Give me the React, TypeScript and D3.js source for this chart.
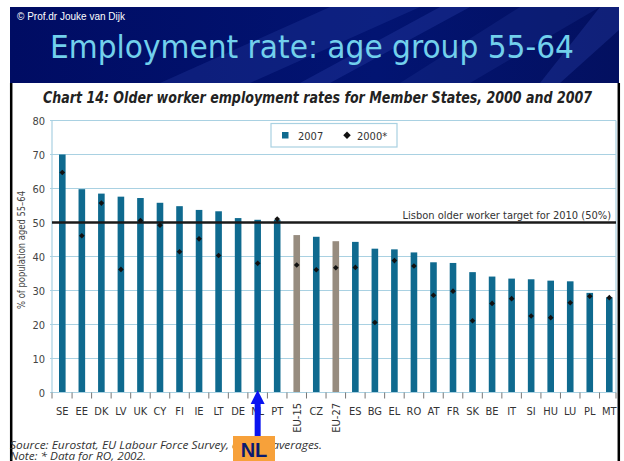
import React from "react";
import * as d3 from "d3";

const categories = ["SE","EE","DK","LV","UK","CY","FI","IE","LT","DE","NL","PT","EU-15","CZ","EU-27","ES","BG","EL","RO","AT","FR","SK","BE","IT","SI","HU","LU","PL","MT"];
const values2007 = [70.0, 59.8, 58.5, 57.6, 57.2, 55.8, 54.8, 53.7, 53.3, 51.3, 50.8, 50.8, 46.3, 45.8, 44.5, 44.3, 42.3, 42.1, 41.2, 38.3, 38.1, 35.4, 34.1, 33.5, 33.3, 32.9, 32.7, 29.3, 28.0];
const values2000: (number | null)[] = [64.7, 46.1, 55.7, 36.2, 50.6, 49.2, 41.4, 45.2, 40.3, null, 38.0, 51.0, 37.5, 36.1, 36.7, 36.8, 20.6, 38.8, 37.2, 28.6, 29.8, 21.1, 26.2, 27.6, 22.5, 22.0, 26.4, 28.3, 27.9];
const aggregates = ["EU-15", "EU-27"];
const yTicks = [0, 10, 20, 30, 40, 50, 60, 70, 80];
const lisbonTarget = 50;

const W = 624, H = 461;
const COND = "'Liberation Sans Narrow', 'DejaVu Sans Condensed', 'Roboto Condensed', 'Liberation Sans', sans-serif";
const BAR = "#0f6a8f";
const GREY = "#978c7f";
const GRID = "#a9d1e2";

export default function App() {
  const plotL = 52, plotR = 616;
  const y = d3.scaleLinear().domain([0, 80]).range([392.5, 120.5]);
  const x = d3.scalePoint<string>().domain(categories).range([62.3, 609.3]);
  const step = x.step();
  const bw = 6.6;
  const marker = d3.symbol().type(d3.symbolSquare).size(16)()!;
  const legendMarker = d3.symbol().type(d3.symbolSquare).size(28)()!;

  const tickXs: number[] = [plotL];
  categories.forEach((c, i) => { if (i < categories.length - 1) tickXs.push((x(c) as number) + step / 2); });
  tickXs.push(plotR);

  const nlX = x("NL") as number;

  return (
    <svg width={W} height={H} style={{ position: "absolute", left: 0, top: 0, display: "block" }}>
      <defs>
        <linearGradient id="hdr" x1="0" y1="0" x2="1" y2="0">
          <stop offset="0" stopColor="#000c63" />
          <stop offset="0.6" stopColor="#021472" />
          <stop offset="1" stopColor="#031060" />
        </linearGradient>
        <clipPath id="hclip"><rect x={10} y={7} width={609} height={76} /></clipPath>
      </defs>
      <rect x={0} y={0} width={W} height={H} fill="#ffffff" />
      {/* header */}
      <rect x={10} y={7} width={609} height={76} fill="url(#hdr)" />
      <g clipPath="url(#hclip)" opacity={0.35}>
        <polygon points="330,7 420,7 250,83 160,83" fill="#243a9e" />
        <polygon points="440,7 470,7 330,83 300,83" fill="#2a40a8" />
        <polygon points="520,7 600,7 470,83 400,83" fill="#1c318f" />
        <polygon points="600,7 619,7 619,30 560,83 540,83" fill="#2a40a8" />
      </g>
      <text x={17} y={20} fill="#ffffff" fontSize={10} fontFamily="'Liberation Sans', Arial, sans-serif">© Prof.dr Jouke van Dijk</text>
      <text x={50} y={58} fill="#72d0ec" fontSize={32} fontFamily={COND} textLength={524} lengthAdjust="spacingAndGlyphs">Employment rate: age group 55-64</text>

      {/* frame lines */}
      <line x1={11.2} x2={11.2} y1={83} y2={H} stroke="#000" strokeWidth={2.5} />
      <line x1={618.8} x2={618.8} y1={83} y2={H} stroke="#000" strokeWidth={2.5} />

      {/* chart title */}
      <text x={43} y={103} fill="#222" fontSize={16} fontWeight="bold" fontStyle="italic" fontFamily={COND} textLength={549} lengthAdjust="spacingAndGlyphs">Chart 14: Older worker employment rates for Member States, 2000 and 2007</text>

      {/* gridlines */}
      {yTicks.map(t => (
        <g key={t}>
          {t !== lisbonTarget && (
            <line x1={plotL - 2} x2={plotR} y1={y(t)} y2={y(t)} stroke={GRID} strokeWidth={1.2} />
          )}
          <text x={45} y={y(t) + 4} textAnchor="end" fill="#444" fontSize={11} fontFamily={COND}>{t}</text>
        </g>
      ))}
      <line x1={plotL} x2={plotL} y1={y(80)} y2={y(0)} stroke={GRID} strokeWidth={1.2} />
      <line x1={plotR} x2={plotR} y1={y(80)} y2={y(0)} stroke={GRID} strokeWidth={1.2} />

      {/* y label */}
      <text transform={`translate(25,${250}) rotate(-90)`} textAnchor="middle" fill="#444" fontSize={10.5} fontFamily={COND} textLength={118} lengthAdjust="spacingAndGlyphs">% of population aged 55–64</text>

      {/* legend */}
      <rect x={271} y={123.5} width={126} height={23.5} fill="#fff" stroke={GRID} strokeWidth={1.2} />
      <rect x={282} y={132} width={6.5} height={6.5} fill={BAR} />
      <text x={298} y={139.5} fill="#333" fontSize={11} fontFamily={COND}>2007</text>
      <path d={legendMarker} transform="translate(347,135.3) rotate(45)" fill="#111" />
      <text x={357} y={139.5} fill="#333" fontSize={11} fontFamily={COND}>2000*</text>

      {/* bars */}
      {categories.map((c, i) => (
        <rect key={c} x={(x(c) as number) - bw / 2} y={y(values2007[i])} width={bw}
          height={y(0) - y(values2007[i])} fill={aggregates.includes(c) ? GREY : BAR} />
      ))}

      {/* Lisbon line */}
      <line x1={plotL} x2={plotR} y1={y(lisbonTarget)} y2={y(lisbonTarget)} stroke="#1a1a1a" strokeWidth={2.4} />
      <text x={611} y={y(lisbonTarget) - 4} textAnchor="end" fill="#333" fontSize={11} fontFamily={COND}>Lisbon older worker target for 2010 (50%)</text>

      {/* 2000 markers */}
      {categories.map((c, i) => values2000[i] == null ? null : (
        <path key={c} d={marker} transform={`translate(${x(c)},${y(values2000[i] as number)}) rotate(45)`} fill="#111" />
      ))}

      {/* x axis */}
      <line x1={plotL} x2={plotR} y1={y(0)} y2={y(0)} stroke={GRID} strokeWidth={1.2} />
      {tickXs.map((tx, i) => (
        <line key={i} x1={tx} x2={tx} y1={y(0)} y2={y(0) + 6} stroke="#777" strokeWidth={1} />
      ))}
      {categories.map(c => aggregates.includes(c) ? (
        <text key={c} transform={`translate(${(x(c) as number) + 4},${403}) rotate(-90)`} textAnchor="end" fill="#333" fontSize={11} fontFamily={COND}>{c}</text>
      ) : (
        <text key={c} x={x(c) as number} y={415} textAnchor="middle" fill="#333" fontSize={11} fontFamily={COND}>{c}</text>
      ))}

      {/* source */}
      <text x={10} y={449} fill="#333" fontSize={11.5} fontStyle="italic" fontFamily="'Open Sans', 'Liberation Sans', sans-serif" textLength={312} lengthAdjust="spacingAndGlyphs">Source: Eurostat, EU Labour Force Survey, annual averages.</text>
      <text x={10} y={460} fill="#333" fontSize={11.5} fontStyle="italic" fontFamily="'Open Sans', 'Liberation Sans', sans-serif" textLength={136} lengthAdjust="spacingAndGlyphs">Note: * Data for RO, 2002.</text>

      {/* NL annotation */}
      <rect x={nlX - 3} y={398} width={6} height={40} fill="#0a14f0" />
      <polygon points={`${nlX},390 ${nlX - 7},404 ${nlX + 7},404`} fill="#0a14f0" />
      <rect x={233} y={436} width={42} height={25} fill="#f7a13a" />
      <text x={254} y={457} textAnchor="middle" fill="#0a1a70" fontSize={20} fontWeight="bold" fontFamily="'Liberation Sans', Arial, sans-serif">NL</text>
    </svg>
  );
}
